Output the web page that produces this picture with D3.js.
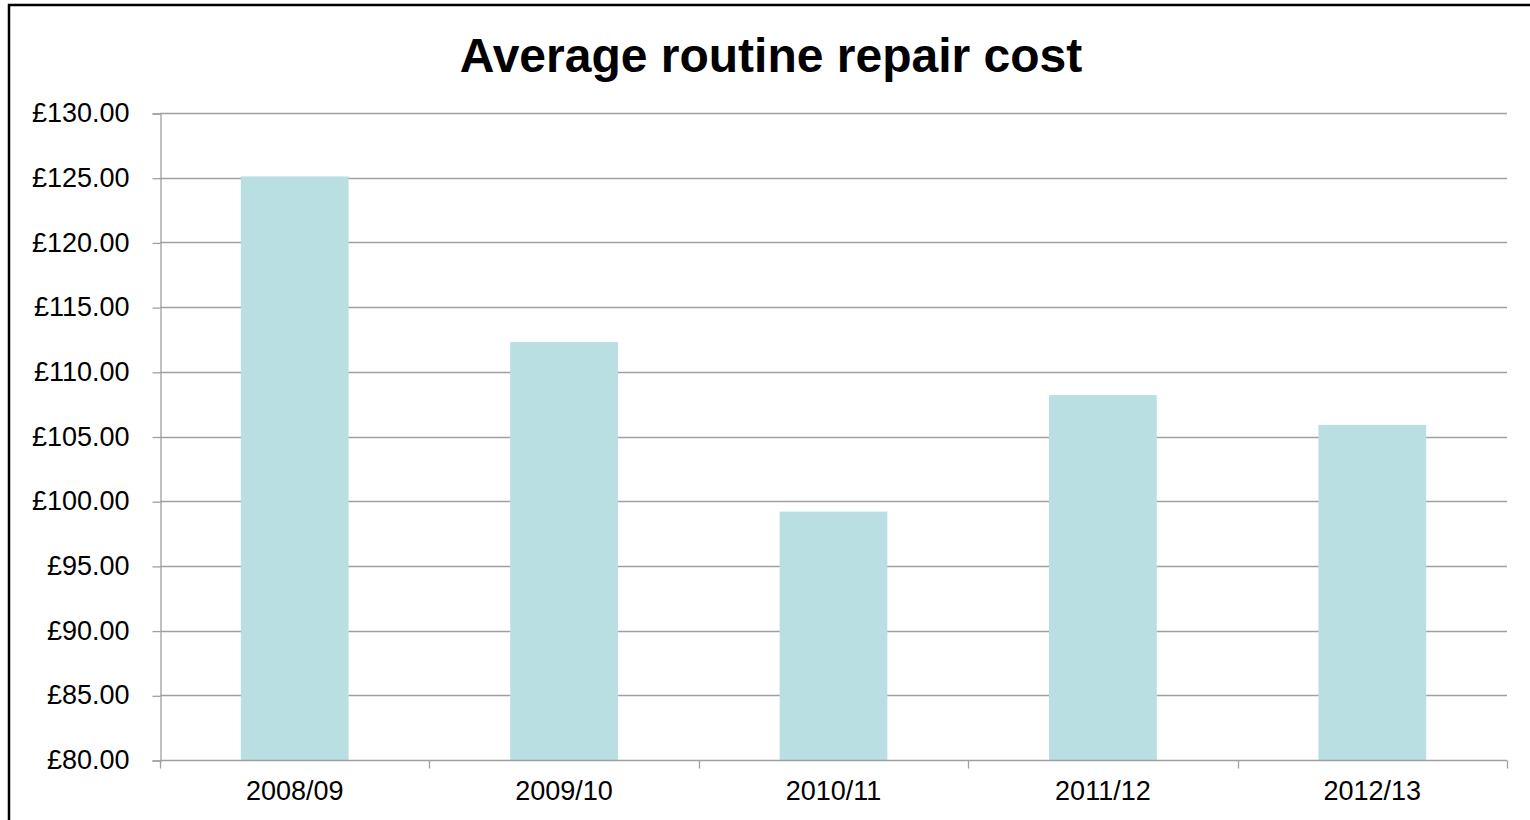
<!DOCTYPE html>
<html>
<head>
<meta charset="utf-8">
<script src="https://cdn.jsdelivr.net/npm/d3@7"></script>
<style>
  html, body { margin: 0; padding: 0; background: #fff; }
  svg { display: block; }
  text { font-family: "Liberation Sans", Arial, sans-serif; fill: #000; }
</style>
</head>
<body>
<svg id="chart" width="1530" height="820"></svg>
<script>
// Financial years and average routine repair cost (£)
const years = ["2008/09", "2009/10", "2010/11", "2011/12", "2012/13"];
const costs = [125.1, 112.3, 99.2, 108.2, 105.9];
const yTicks = [80, 85, 90, 95, 100, 105, 110, 115, 120, 125, 130];
const title = "Average routine repair cost";

const svg = d3.select("#chart");
const W = 1530, H = 820;
const plot = { left: 160, right: 1507, top: 113, bottom: 760 };

// Chart frame
svg.append("rect")
  .attr("x", 9).attr("y", 5)
  .attr("width", W + 20).attr("height", H + 20)
  .attr("fill", "#fff").attr("stroke", "#000").attr("stroke-width", 2.5);

const x = d3.scaleBand().domain(years).range([plot.left, plot.right]).paddingInner(0.6).paddingOuter(0.3);
const xOuter = d3.scaleBand().domain(years).range([plot.left, plot.right]);
const y = d3.scaleLinear().domain([80, 130]).range([plot.bottom, plot.top]);

// Title
svg.append("text")
  .attr("x", 771).attr("y", 72)
  .attr("text-anchor", "middle")
  .attr("font-size", 48).attr("font-weight", "bold")
  .text(title);

// Horizontal gridlines
svg.append("g")
  .selectAll("line")
  .data(yTicks.filter(d => d !== 80))
  .join("line")
  .attr("x1", plot.left).attr("x2", plot.right)
  .attr("y1", d => Math.round(y(d)) + 0.5).attr("y2", d => Math.round(y(d)) + 0.5)
  .attr("stroke", "#a0a0a0").attr("stroke-width", 1.3);

// Bars
svg.append("g")
  .selectAll("rect")
  .data(years.map((yr, i) => ({ yr, v: costs[i] })))
  .join("rect")
  .attr("x", d => x(d.yr))
  .attr("width", x.bandwidth())
  .attr("y", d => y(d.v))
  .attr("height", d => y(80) - y(d.v))
  .attr("fill", "#b9dfe2");

// Y axis
const yAxis = d3.axisLeft(y)
  .tickValues(yTicks)
  .tickSize(8)
  .tickPadding(23)
  .tickFormat(d => "£" + d3.format(".2f")(d));
const gy = svg.append("g")
  .attr("transform", `translate(${plot.left + 0.5},0.5)`)
  .call(yAxis);
gy.select(".domain").attr("stroke", "#a0a0a0").attr("stroke-width", 1.3);
gy.selectAll(".tick line").attr("stroke", "#a0a0a0").attr("stroke-width", 1.3);
gy.selectAll(".tick text")
  .attr("font-size", 27)
  .attr("dy", "0.3em")
  .style("font-family", "'Liberation Sans', Arial, sans-serif")
  .attr("fill", "#000");

// X axis: tick marks at category boundaries, labels centred on bars
const boundaries = years.map(d => xOuter(d)).concat([plot.right]);
const gx = svg.append("g").attr("transform", `translate(0,${plot.bottom + 0.5})`);
gx.append("line")
  .attr("x1", plot.left).attr("x2", plot.right)
  .attr("stroke", "#a0a0a0").attr("stroke-width", 1.3);
gx.selectAll("line.tick")
  .data(boundaries)
  .join("line")
  .attr("class", "tick")
  .attr("x1", d => Math.round(d) + 0.5).attr("x2", d => Math.round(d) + 0.5)
  .attr("y1", 0).attr("y2", 8)
  .attr("stroke", "#a0a0a0").attr("stroke-width", 1.3);
gx.selectAll("text")
  .data(years)
  .join("text")
  .attr("x", d => x(d) + x.bandwidth() / 2)
  .attr("y", 39)
  .attr("text-anchor", "middle")
  .attr("font-size", 27)
  .text(d => d);
</script>
</body>
</html>
